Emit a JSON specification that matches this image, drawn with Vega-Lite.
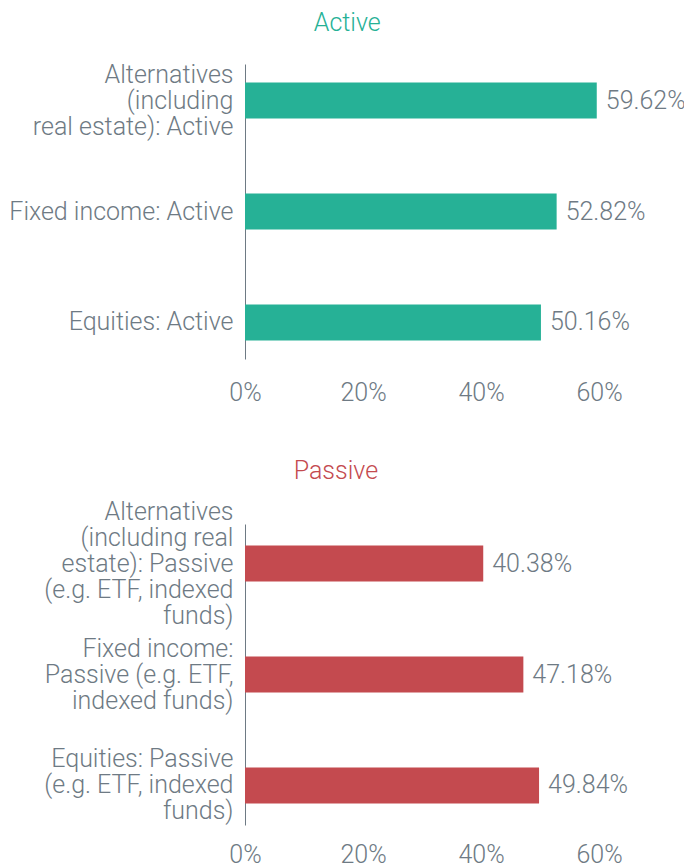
{
  "$schema": "https://vega.github.io/schema/vega-lite/v6.json",
  "background": "white",
  "padding": {"left": 8, "top": 11, "right": 0, "bottom": 0},
  "config": {
    "view": {"stroke": null},
    "font": "Roboto",
    "concat": {"spacing": 54},
    "axis": {"labelFont": "Roboto", "labelFontWeight": 300, "labelColor": "#6E7A84", "labelFontSize": 25, "title": null, "grid": false, "ticks": false}
  },
  "vconcat": [
    {
      "title": {"text": "Active", "color": "#26B196", "fontSize": 25, "fontWeight": 300, "font": "Roboto", "frame": "bounds", "anchor": "middle", "offset": 26},
      "width": 354,
      "height": 295,
      "data": {"values": [
        {"category": "Alternatives|(including|real estate): Active", "value": 0.5962},
        {"category": "Fixed income: Active", "value": 0.5282},
        {"category": "Equities: Active", "value": 0.5016}
      ]},
      "encoding": {
        "y": {"field": "category", "type": "nominal", "sort": null,
              "scale": {"paddingInner": 0.676, "paddingOuter": 0.167},
              "axis": {"labelExpr": "split(datum.label, '|')", "labelLineHeight": 26, "labelPadding": 12, "labelLimit": 0, "domainColor": "#6E7A84", "domainWidth": 1,
                       "labelOffset": {"condition": [
                         {"test": "length(split(datum.label, '|')) == 5", "value": -52},
                         {"test": "length(split(datum.label, '|')) == 3", "value": -26}
                       ], "value": 0}}},
        "x": {"field": "value", "type": "quantitative",
              "scale": {"domain": [0, 0.6], "nice": false},
              "axis": {"values": [0, 0.2, 0.4, 0.6], "format": ".0%", "domain": false, "labelPadding": 21, "labelFlush": false}}
      },
      "layer": [
        {"mark": {"type": "bar", "color": "#26B196"}},
        {"mark": {"type": "text", "align": "left", "baseline": "middle", "dx": 9, "fontSize": 25, "fontWeight": 300, "font": "Roboto", "color": "#6E7A84"},
         "encoding": {"text": {"field": "value", "type": "quantitative", "format": ".2%"}}}
      ]
    },
    {
      "title": {"text": "Passive", "color": "#C44A4F", "fontSize": 25, "fontWeight": 300, "font": "Roboto", "frame": "bounds", "anchor": "middle", "offset": 15},
      "width": 354,
      "height": 301,
      "data": {"values": [
        {"category": "Alternatives|(including real|estate): Passive |(e.g. ETF, indexed|funds)", "value": 0.4038},
        {"category": "Fixed income:|Passive (e.g. ETF,|indexed funds)", "value": 0.4718},
        {"category": "Equities: Passive|(e.g. ETF, indexed|funds)", "value": 0.4984}
      ]},
      "encoding": {
        "y": {"field": "category", "type": "nominal", "sort": null,
              "scale": {"paddingInner": 0.676, "paddingOuter": 0.194},
              "axis": {"labelExpr": "split(datum.label, '|')", "labelLineHeight": 26, "labelPadding": 12, "labelLimit": 0, "domainColor": "#6E7A84", "domainWidth": 1,
                       "labelOffset": {"condition": [
                         {"test": "length(split(datum.label, '|')) == 5", "value": -52},
                         {"test": "length(split(datum.label, '|')) == 3", "value": -26}
                       ], "value": 0}}},
        "x": {"field": "value", "type": "quantitative",
              "scale": {"domain": [0, 0.6], "nice": false},
              "axis": {"values": [0, 0.2, 0.4, 0.6], "format": ".0%", "domain": false, "labelPadding": 17, "labelFlush": false}}
      },
      "layer": [
        {"mark": {"type": "bar", "color": "#C44A4F"}},
        {"mark": {"type": "text", "align": "left", "baseline": "middle", "dx": 9, "fontSize": 25, "fontWeight": 300, "font": "Roboto", "color": "#6E7A84"},
         "encoding": {"text": {"field": "value", "type": "quantitative", "format": ".2%"}}}
      ]
    }
  ]
}
